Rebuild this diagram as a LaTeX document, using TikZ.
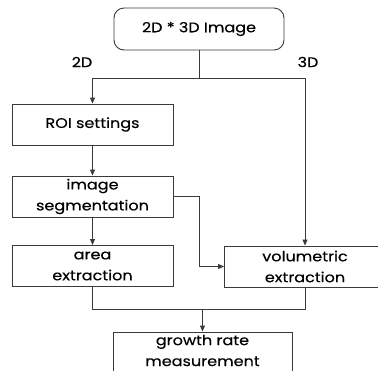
\documentclass[tikz,border=0pt]{standalone}
\usepackage{fontspec}
\setmainfont{Poppins}[FakeStretch=1.15, FakeBold=0.3]
\usetikzlibrary{arrows.meta}
\definecolor{linec}{HTML}{3A3A3A}
\begin{document}
\begin{tikzpicture}[x=1bp, y=-1bp, line width=0.9bp,
  txt/.style={inner sep=0pt, align=center, font=\fontsize{14}{21}\selectfont},
  box/.style={txt, draw=linec, minimum width=161bp, minimum height=41bp},
  lbl/.style={inner sep=0pt, font=\fontsize{14}{16}\selectfont},
  link/.style={draw=linec},
  arr/.style={link, -{Triangle[length=6bp,width=5bp]}}]
\useasboundingbox (0,0) rectangle (378,371);
\clip (0,0) rectangle (378,371);
% boxes
\node[box, rounded corners=10bp, minimum width=170bp, minimum height=42bp] (src) at (199,29) {2D * 3D Image};
\node[box] (roi)  at (92.5,124.5) {ROI settings};
\node[box] (seg)  at (92.5,196.5) {image\\segmentation};
\node[box] (area) at (92.5,266)   {area\\extraction};
\node[box] (vol)  at (305,266.5)  {volumetric\\extraction};
\node[box, minimum width=179bp] (grow) at (202.5,352.5) {};
\node[txt] (growtext) at ([yshift=2bp]grow.center) {growth rate\\measurement};
% branch labels
\node[lbl] (l2d) at (82,62)  {2D};
\node[lbl] (l3d) at (308,62) {3D};
% turning points
\coordinate (split)   at (199,78);
\coordinate (segturn) at (199,196.5);
\coordinate (join)    at (202.5,309);
% connectors
\draw[link] (src.south) -- (split);
\draw[arr] (split) -| (roi.north);
\draw[arr] (split) -| (vol.north);
\draw[arr] (roi) -- (seg);
\draw[arr] (seg) -- (area);
\draw[arr] (seg.east) -- (segturn) |- (vol.west);
\draw[link] (area.south) |- (join);
\draw[link] (vol.south) |- (join);
\draw[arr] (join) -- (grow.north);
\end{tikzpicture}
\end{document}
